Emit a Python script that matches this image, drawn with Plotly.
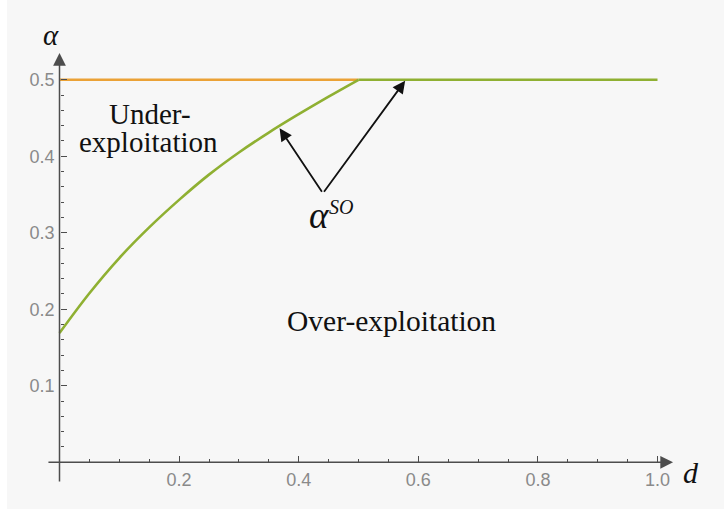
import plotly.graph_objects as go

# socially optimal alpha as a function of d (flat at 0.5 once d >= 0.5)
d_vals = [0.0, 0.05, 0.1, 0.15, 0.2, 0.25, 0.3, 0.35, 0.4, 0.45, 0.5, 1.0]
alpha_so = [0.169, 0.221, 0.267, 0.307, 0.343, 0.376, 0.405, 0.431, 0.455, 0.478, 0.5, 0.5]

# upper bound alpha = 0.5 over the region where the optimum is below it
cap_d = [0.0, 0.5]
cap_alpha = [0.5, 0.5]

x_major = [0.2, 0.4, 0.6, 0.8, 1.0]
x_major_labels = ["0.2", "0.4", "0.6", "0.8", "1.0"]
x_minor = [0.05, 0.1, 0.15, 0.25, 0.3, 0.35, 0.45, 0.5, 0.55, 0.65, 0.7, 0.75, 0.85, 0.9, 0.95]
y_major = [0.1, 0.2, 0.3, 0.4, 0.5]
y_major_labels = ["0.1", "0.2", "0.3", "0.4", "0.5"]
y_minor = [0.02, 0.04, 0.06, 0.08, 0.12, 0.14, 0.16, 0.18, 0.22, 0.24, 0.26, 0.28,
           0.32, 0.34, 0.36, 0.38, 0.42, 0.44, 0.46, 0.48]

X_RANGE = [-0.0878, 1.1112]
Y_RANGE = [-0.0611, 0.6043]

ORANGE = "#EBA236"
GREEN = "#8FB032"
AXIS = "#4d4d4d"
TICKLBL = "#8a8a8a"
INK = "#111111"
SERIF = "Liberation Serif, Times New Roman, serif"
SANS = "Liberation Sans, Arial, sans-serif"

curve_d = [d for d in d_vals if d <= 0.5]
curve_a = [a for d, a in zip(d_vals, alpha_so) if d <= 0.5]
flat_d = [d for d in d_vals if d >= 0.5]
flat_a = [a for d, a in zip(d_vals, alpha_so) if d >= 0.5]

fig = go.Figure()
fig.add_trace(go.Scatter(x=cap_d, y=cap_alpha, mode="lines",
                         line=dict(color=ORANGE, width=2.6), hoverinfo="skip"))
fig.add_trace(go.Scatter(x=curve_d, y=curve_a, mode="lines",
                         line=dict(color=GREEN, width=2.6, shape="spline", smoothing=1.0),
                         hoverinfo="skip"))
fig.add_trace(go.Scatter(x=flat_d, y=flat_a, mode="lines",
                         line=dict(color=GREEN, width=2.6), hoverinfo="skip"))

x_pos = (0 - Y_RANGE[0]) / (Y_RANGE[1] - Y_RANGE[0])
y_pos = (0 - X_RANGE[0]) / (X_RANGE[1] - X_RANGE[0])

tick_common = dict(
    showgrid=False, zeroline=False, showline=False, tickmode="array",
    ticks="inside", ticklen=6, tickwidth=1.2, tickcolor=AXIS,
    tickfont=dict(family=SANS, size=18, color=TICKLBL), ticklabelstandoff=5,
)

fig.update_layout(
    width=724, height=512,
    margin=dict(l=7, r=0, t=0, b=3),
    paper_bgcolor="white",
    plot_bgcolor="#f7f7f7",
    showlegend=False,
    xaxis=dict(
        range=X_RANGE, anchor="free", position=x_pos,
        tickvals=x_major, ticktext=x_major_labels,
        minor=dict(tickmode="array", tickvals=x_minor, ticks="inside",
                   ticklen=3, tickwidth=1.2, tickcolor=AXIS, showgrid=False),
        **tick_common,
    ),
    yaxis=dict(
        range=Y_RANGE, anchor="free", position=y_pos,
        tickvals=y_major, ticktext=y_major_labels,
        minor=dict(tickmode="array", tickvals=y_minor, ticks="inside",
                   ticklen=3, tickwidth=1.2, tickcolor=AXIS, showgrid=False),
        **tick_common,
    ),
)

annotations = [
    # axes with arrowheads
    dict(x=1.026, y=0, ax=-0.021, ay=0, xref="x", yref="y", axref="x", ayref="y",
         text="", showarrow=True, arrowhead=2, arrowsize=1.7, arrowwidth=1.5,
         arrowcolor=AXIS, standoff=0),
    dict(x=0, y=0.535, ax=0, ay=-0.027, xref="x", yref="y", axref="x", ayref="y",
         text="", showarrow=True, arrowhead=2, arrowsize=1.7, arrowwidth=1.5,
         arrowcolor=AXIS, standoff=0),
    # axis titles
    dict(x=-0.0134, y=0.5586, xref="x", yref="y", text="<i>α</i>", showarrow=False,
         font=dict(family=SERIF, size=29, color=INK)),
    dict(x=1.056, y=-0.0135, xref="x", yref="y", text="<i>d</i>", showarrow=False,
         font=dict(family=SERIF, size=30, color=INK)),
    # region labels
    dict(x=0.1513, y=0.4547, xref="x", yref="y", text="Under-", showarrow=False,
         font=dict(family=SERIF, size=29, color=INK)),
    dict(x=0.148, y=0.4188, xref="x", yref="y", text="exploitation", showarrow=False,
         font=dict(family=SERIF, size=29, color=INK)),
    dict(x=0.5544, y=0.1851, xref="x", yref="y", text="Over-exploitation", showarrow=False,
         font=dict(family=SERIF, size=29.5, color=INK)),
    # alpha^SO label and pointers to the curve
    dict(x=0.4356, y=0.3232, xref="x", yref="y", text="<i>α</i>", showarrow=False,
         font=dict(family=SERIF, size=37, color=INK)),
    dict(x=0.4705, y=0.3333, xref="x", yref="y", text="<i>SO</i>", showarrow=False,
         font=dict(family=SERIF, size=20, color=INK)),
    dict(x=0.368, y=0.4366, ax=0.4405, ay=0.3516, xref="x", yref="y", axref="x", ayref="y",
         text="", showarrow=True, arrowhead=2, arrowsize=1.4, arrowwidth=1.8,
         arrowcolor=INK, standoff=0),
    dict(x=0.578, y=0.4988, ax=0.4405, ay=0.3516, xref="x", yref="y", axref="x", ayref="y",
         text="", showarrow=True, arrowhead=2, arrowsize=1.4, arrowwidth=1.8,
         arrowcolor=INK, standoff=0),
]
fig.update_layout(annotations=annotations)

fig.write_html("out.html")
